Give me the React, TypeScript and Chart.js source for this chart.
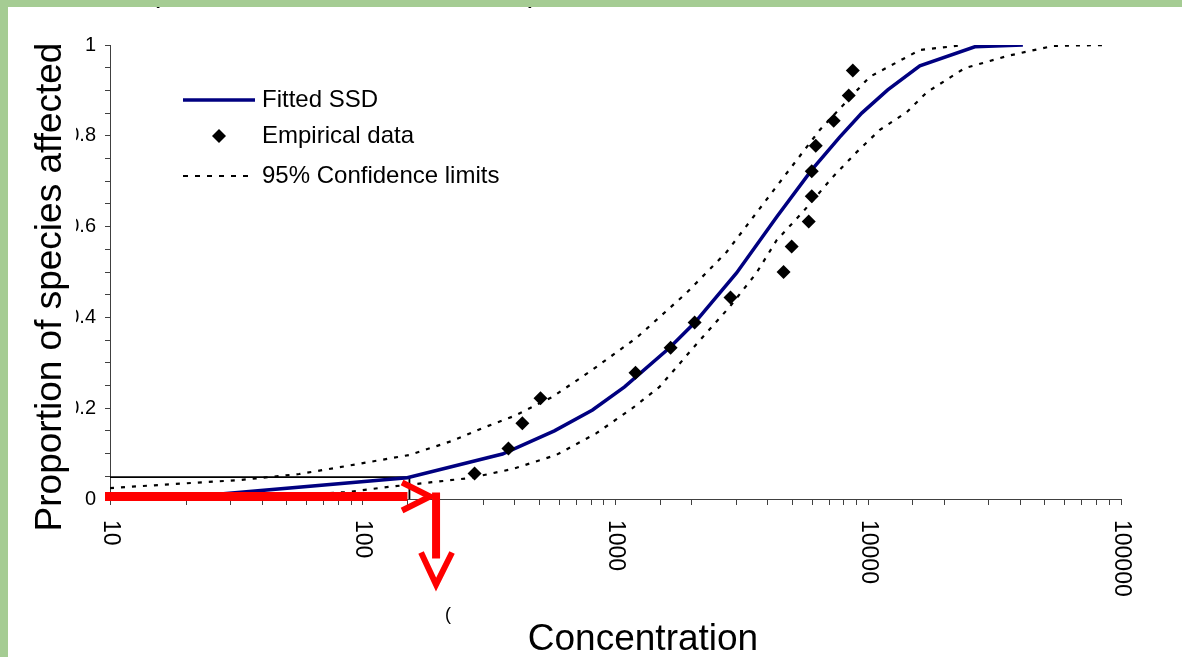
import React, { useEffect, useRef } from "react";
import { Chart, registerables } from "chart.js";

Chart.register(...registerables);

// ---- data ----
const FITTED_CONC = [18, 150, 357, 573, 811, 1086, 1637, 2056, 3013, 4341, 5976, 7709, 9425, 11940, 16000, 26400, 40900];
const FITTED_P = [0.002, 0.047, 0.099, 0.15, 0.196, 0.247, 0.333, 0.388, 0.498, 0.621, 0.725, 0.797, 0.85, 0.901, 0.954, 0.996, 1.0];

const UPPER_CONC = [10, 18, 33, 56, 81, 153, 226, 297, 398, 563, 789, 1211, 1910, 2752, 4265, 6430, 10140, 16000, 24100];
const UPPER_P = [0.024, 0.033, 0.042, 0.055, 0.07, 0.097, 0.128, 0.156, 0.183, 0.225, 0.28, 0.355, 0.454, 0.544, 0.683, 0.813, 0.93, 0.989, 1.0];

const LOWER_CONC = [10, 40, 86, 124, 188, 264, 391, 583, 841, 1167, 1493, 2113, 2827, 3612, 4341, 5507, 7234, 8995, 11110, 14200, 17060, 24100, 35600, 53800, 88100];
const LOWER_P = [0.001, 0.006, 0.015, 0.026, 0.037, 0.046, 0.066, 0.097, 0.145, 0.2, 0.247, 0.344, 0.423, 0.498, 0.57, 0.632, 0.709, 0.764, 0.813, 0.852, 0.896, 0.949, 0.976, 0.998, 1.0];

const EMP_CONC = [277, 377, 428, 505, 1200, 1652, 2056, 2851, 4624, 4977, 5814, 5976, 5976, 6200, 7300, 8370, 8690];
const EMP_P = [0.056, 0.111, 0.167, 0.222, 0.278, 0.333, 0.389, 0.444, 0.5, 0.556, 0.611, 0.667, 0.722, 0.778, 0.833, 0.889, 0.944];

const HC5_CONC = 153;
const HC5_P = 0.048;
const ARROW_CONC = 195;

const X_TICK_LABELS = [10, 100, 1000, 10000, 100000];
const Y_LABEL_STEP = 0.2;

const LEGEND_LABELS = ["Fitted SSD", "Empirical data", "95% Confidence limits"];
const X_TITLE = "Concentration";
const Y_TITLE = "Proportion of species affected";

const FONT = "'Liberation Sans', Arial, sans-serif";
const NAVY = "#000080";
const GREEN = "#a5cc93";
const RED = "#ff0000";

const pts = (xs: number[], ys: number[]) => xs.map((x, i) => ({ x, y: ys[i] }));

const decorPlugin = {
  id: "decor",
  beforeDraw(chart: any) {
    const { ctx, width, height } = chart;
    ctx.save();
    ctx.fillStyle = "#ffffff";
    ctx.fillRect(0, 0, width, height);
    ctx.restore();
  },
  afterDraw(chart: any) {
    const { ctx } = chart;
    const xs = chart.scales.x;
    const ys = chart.scales.y;
    const bottom = ys.getPixelForValue(0);
    ctx.save();

    // x tick labels, rotated clockwise
    ctx.fillStyle = "#000";
    ctx.font = `23px ${FONT}`;
    ctx.textAlign = "left";
    ctx.textBaseline = "middle";
    X_TICK_LABELS.forEach((v) => {
      const px = xs.getPixelForValue(v);
      ctx.save();
      ctx.translate(px, bottom + 21);
      ctx.rotate(Math.PI / 2);
      ctx.fillText(String(v), 0, 0);
      ctx.restore();
    });

    // y title with white backing
    ctx.fillStyle = "#fff";
    ctx.fillRect(28, 34, 48, 506);
    ctx.fillStyle = "#000";
    ctx.font = `37px ${FONT}`;
    ctx.save();
    ctx.translate(61, 287);
    ctx.rotate(-Math.PI / 2);
    ctx.textAlign = "center";
    ctx.textBaseline = "alphabetic";
    ctx.fillText(Y_TITLE, 0, 0);
    ctx.restore();

    // x title
    ctx.textAlign = "center";
    ctx.textBaseline = "alphabetic";
    ctx.fillText(X_TITLE, 643, 650);

    // legend
    const lx0 = 183, lx1 = 255, tx = 262;
    const rows = [100, 136, 176];
    ctx.strokeStyle = NAVY;
    ctx.lineWidth = 3.5;
    ctx.beginPath();
    ctx.moveTo(lx0, rows[0]);
    ctx.lineTo(lx1, rows[0]);
    ctx.stroke();
    ctx.fillStyle = "#000";
    ctx.beginPath();
    const dx = 219, dy = rows[1], r = 7;
    ctx.moveTo(dx, dy - r);
    ctx.lineTo(dx + r, dy);
    ctx.lineTo(dx, dy + r);
    ctx.lineTo(dx - r, dy);
    ctx.closePath();
    ctx.fill();
    ctx.strokeStyle = "#000";
    ctx.lineWidth = 2.2;
    ctx.setLineDash([5, 7]);
    ctx.beginPath();
    ctx.moveTo(lx0, rows[2]);
    ctx.lineTo(lx1, rows[2]);
    ctx.stroke();
    ctx.setLineDash([]);
    ctx.font = `24px ${FONT}`;
    ctx.textAlign = "left";
    ctx.textBaseline = "middle";
    LEGEND_LABELS.forEach((t, i) => ctx.fillText(t, tx, rows[i]));

    // red arrows
    const hx = xs.getPixelForValue(HC5_CONC);
    const ax = xs.getPixelForValue(ARROW_CONC);
    const by = bottom - 2.5;
    ctx.strokeStyle = RED;
    ctx.lineCap = "butt";
    ctx.lineJoin = "miter";
    ctx.lineWidth = 9;
    ctx.beginPath();
    ctx.moveTo(xs.left - 5, by);
    ctx.lineTo(hx - 2, by);
    ctx.stroke();
    ctx.lineWidth = 6;
    ctx.beginPath();
    ctx.moveTo(ax - 34, by - 14);
    ctx.lineTo(ax - 6, by);
    ctx.lineTo(ax - 34, by + 14);
    ctx.stroke();
    ctx.lineWidth = 8;
    ctx.beginPath();
    ctx.moveTo(ax, by - 4);
    ctx.lineTo(ax, by + 62);
    ctx.stroke();
    ctx.lineWidth = 6;
    ctx.beginPath();
    ctx.moveTo(ax - 15, by + 56);
    ctx.lineTo(ax, by + 88);
    ctx.lineTo(ax + 16, by + 56);
    ctx.stroke();

    // stray partial glyph under the arrow
    ctx.fillStyle = "#000";
    ctx.font = `18px ${FONT}`;
    ctx.textAlign = "left";
    ctx.textBaseline = "alphabetic";
    ctx.fillText("(", ax + 9, 620);

    // partial title glyphs behind the frame
    ctx.font = `30px ${FONT}`;
    ctx.fillText("(", 150, 2);
    ctx.fillText(")", 528, 2);

    // green frame
    ctx.fillStyle = GREEN;
    ctx.fillRect(0, 0, chart.width, 7);
    ctx.fillRect(0, 0, 8, chart.height);
    ctx.restore();
  },
};

export default function App() {
  const ref = useRef<HTMLCanvasElement | null>(null);
  useEffect(() => {
    if (!ref.current) return;
    const chart = new Chart(ref.current, {
      type: "scatter",
      data: {
        datasets: [
          {
            label: "Empirical data",
            data: pts(EMP_CONC, EMP_P),
            showLine: false,
            pointStyle: "rectRot",
            pointRadius: 7,
            backgroundColor: "#000",
            borderColor: "#000",
            borderWidth: 0,
            order: 0,
          },
          {
            label: "Fitted SSD",
            data: pts(FITTED_CONC, FITTED_P),
            showLine: true,
            borderColor: NAVY,
            borderWidth: 3.5,
            pointRadius: 0,
            tension: 0,
            order: 1,
          },
          {
            label: "Upper 95%",
            data: pts(UPPER_CONC, UPPER_P),
            showLine: true,
            borderColor: "#000",
            borderWidth: 2.2,
            borderDash: [4, 7],
            pointRadius: 0,
            order: 2,
          },
          {
            label: "Lower 95%",
            data: pts(LOWER_CONC, LOWER_P),
            showLine: true,
            borderColor: "#000",
            borderWidth: 2.2,
            borderDash: [4, 7],
            pointRadius: 0,
            order: 3,
          },
          {
            label: "HC5",
            data: [
              { x: 10, y: HC5_P },
              { x: HC5_CONC, y: HC5_P },
              { x: HC5_CONC, y: 0 },
            ],
            showLine: true,
            borderColor: "#000",
            borderWidth: 1.8,
            pointRadius: 0,
            order: 4,
          },
        ],
      },
      options: {
        animation: false,
        responsive: false,
        devicePixelRatio: 1,
        layout: { padding: { left: 0, top: 45, right: 61, bottom: 0 } },
        plugins: { legend: { display: false }, tooltip: { enabled: false } },
        scales: {
          x: {
            type: "logarithmic",
            position: "bottom",
            min: 10,
            max: 100000,
            afterFit: (s: any) => {
              s.height = 158;
            },
            grid: { drawOnChartArea: false, drawTicks: true, tickLength: 6, color: "#404040" },
            border: { color: "#404040", width: 1 },
            ticks: { display: false, autoSkip: false },
          },
          y: {
            type: "linear",
            min: 0,
            max: 1,
            afterFit: (s: any) => {
              s.width = 110;
            },
            grid: { drawOnChartArea: false, drawTicks: true, tickLength: 5, color: "#404040" },
            border: { color: "#404040", width: 1 },
            ticks: {
              stepSize: 0.05,
              autoSkip: false,
              padding: 9,
              color: "#000",
              font: { family: FONT, size: 20 },
              callback: (v: any) => {
                const n = Math.round(Number(v) * 100);
                return n % Math.round(Y_LABEL_STEP * 100) === 0 ? String(n / 100) : "";
              },
            },
          },
        },
      },
      plugins: [decorPlugin],
    });
    return () => chart.destroy();
  }, []);
  return (
    <div style={{ position: "absolute", left: 0, top: 0, width: 1182, height: 657 }}>
      <canvas ref={ref} width={1182} height={657} style={{ display: "block" }} />
    </div>
  );
}
